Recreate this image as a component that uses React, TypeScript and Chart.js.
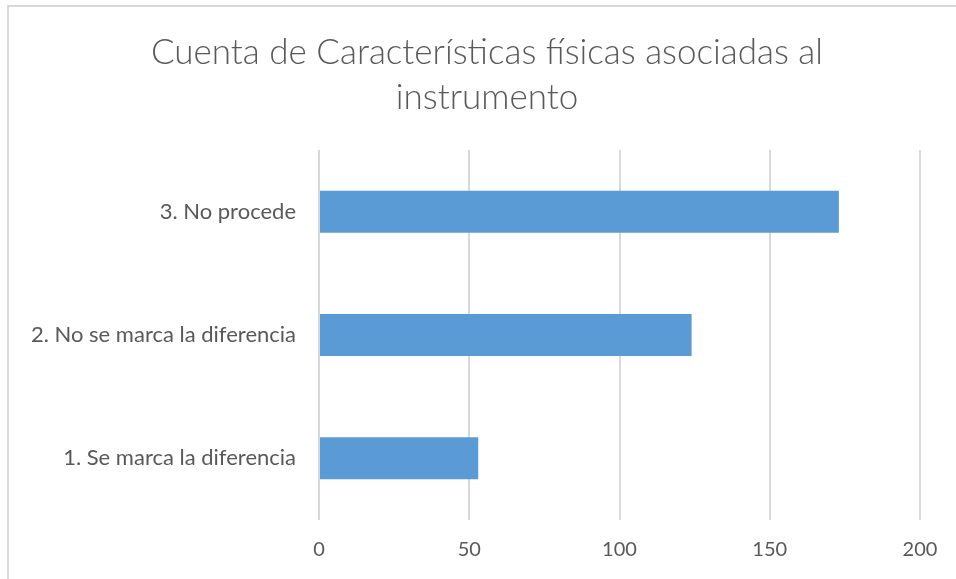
import React, { useEffect, useRef } from "react";
import { Chart, registerables } from "chart.js";

Chart.register(...registerables);

const categories = ["3. No procede", "2. No se marca la diferencia", "1. Se marca la diferencia"];
const counts = [173, 124, 53];
const titleLines = ["Cuenta de Características físicas asociadas al", "instrumento"];
const xTicks = [0, 50, 100, 150, 200];

const FONT = "Lato, 'Open Sans', sans-serif";

export default function App() {
  const ref = useRef<HTMLCanvasElement | null>(null);

  useEffect(() => {
    if (!ref.current) return;
    const chart = new Chart(ref.current, {
      type: "bar",
      data: {
        labels: categories,
        datasets: [
          {
            label: "Cuenta",
            data: counts,
            backgroundColor: "#5b9bd5",
            borderWidth: 0,
            categoryPercentage: 1,
            barPercentage: 0.34,
          },
        ],
      },
      options: {
        indexAxis: "y",
        animation: false,
        responsive: false,
        maintainAspectRatio: false,
        layout: { padding: { top: 28, right: 0, bottom: 0, left: 18 } },
        plugins: {
          legend: { display: false },
          tooltip: { enabled: false },
          title: {
            display: true,
            text: titleLines,
            color: "#595959",
            font: { family: FONT, size: 35, weight: "300" as any, lineHeight: 45 / 35 },
            padding: { top: 2, bottom: 30 },
          },
        },
        scales: {
          x: {
            min: 0,
            max: 200,
            afterBuildTicks: (s: any) => {
              s.ticks = xTicks.map((v) => ({ value: v }));
            },
            grid: { color: "#d9d9d9", lineWidth: 2, drawTicks: false },
            border: { display: false },
            ticks: { color: "#595959", font: { family: FONT, size: 20 }, padding: 18 },
            afterFit: (s: any) => {
              s.height = 59;
              s.paddingRight = 36;
            },
          },
          y: {
            grid: { display: false, drawTicks: false },
            border: { display: false },
            ticks: { color: "#595959", font: { family: FONT, size: 22 }, padding: 23 },
            afterFit: (s: any) => {
              s.width = 301;
            },
          },
        },
      },
    });
    return () => chart.destroy();
  }, []);

  return (
    <div style={{ position: "absolute", left: 0, top: 0, width: 956, height: 579, background: "#fff", overflow: "hidden" }}>
      <canvas ref={ref} width={956} height={579} style={{ position: "absolute", left: 0, top: 0 }} />
      <div
        style={{
          position: "absolute",
          left: 7,
          top: 5,
          width: 1000,
          height: 1000,
          borderTop: "2px solid #d9d9d9",
          borderLeft: "2px solid #d9d9d9",
          pointerEvents: "none",
        }}
      />
    </div>
  );
}
